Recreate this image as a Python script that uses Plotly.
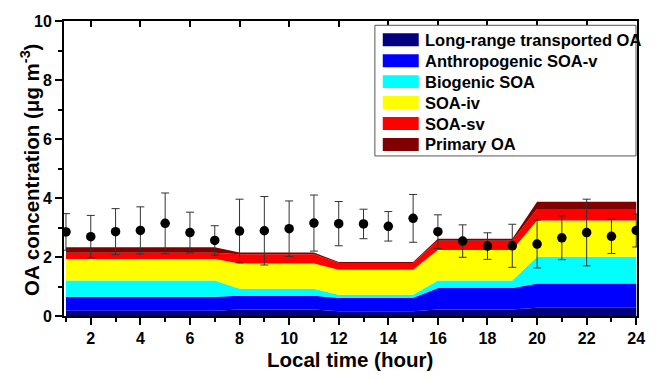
import plotly.graph_objects as go

hours = list(range(1, 25))

# stacked components (µg m-3), per hour
long_range = [0.18]*7 + [0.22]*4 + [0.16]*4 + [0.22]*4 + [0.28]*5
anthro_soa_v = [0.47]*7 + [0.47]*4 + [0.46]*4 + [0.73]*4 + [0.82]*5
biogenic_soa = [0.55]*7 + [0.23]*4 + [0.10]*4 + [0.25]*4 + [0.91]*5
soa_iv = [0.73]*7 + [0.86]*4 + [0.85]*4 + [1.04]*4 + [1.23]*5
soa_sv = [0.21]*7 + [0.31]*4 + [0.23]*4 + [0.31]*4 + [0.39]*5
primary_oa = [0.19]*7 + [0.06]*4 + [0.03]*4 + [0.07]*4 + [0.24]*5

# observed OA mean and std
obs_mean = [2.85, 2.69, 2.86, 2.90, 3.14, 2.83, 2.56, 2.88, 2.89, 2.96, 3.15, 3.13,
            3.12, 3.04, 3.31, 2.86, 2.54, 2.37, 2.38, 2.44, 2.65, 2.83, 2.70, 2.90]
obs_err = [0.62, 0.72, 0.78, 0.80, 1.03, 0.69, 0.50, 1.08, 1.16, 0.94, 0.95, 0.75,
           0.50, 0.50, 0.81, 0.57, 0.55, 0.45, 0.73, 0.81, 0.74, 1.13, 0.58, 0.56]

names = ["Long-range transported OA", "Anthropogenic SOA-v", "Biogenic SOA",
         "SOA-iv", "SOA-sv", "Primary OA"]
colors = ["#000080", "#0000FF", "#00FFFF", "#FFFF00", "#FF0000", "#800000"]
series = [long_range, anthro_soa_v, biogenic_soa, soa_iv, soa_sv, primary_oa]

x_ticks = [2, 4, 6, 8, 10, 12, 14, 16, 18, 20, 22, 24]
y_ticks = [0, 2, 4, 6, 8, 10]

x_title = "Local time (hour)"
y_title = "OA concentration (μg m<sup>-3</sup>)"

FONT = "Arial, Liberation Sans, sans-serif"

fig = go.Figure()
for name, col, vals in zip(names, colors, series):
    fig.add_trace(go.Scatter(x=hours, y=vals, name=name, stackgroup="one",
                             mode="none", fillcolor=col, line=dict(width=0),
                             showlegend=False, hoverinfo="skip"))

fig.add_trace(go.Scatter(x=hours, y=obs_mean, mode="markers",
                         marker=dict(color="black", size=9.5),
                         error_y=dict(type="data", array=obs_err, color="#333333",
                                      thickness=1, width=4),
                         showlegend=False))

# dummy trace for top axis ticks
fig.add_trace(go.Scatter(x=[1], y=[None], xaxis="x2", showlegend=False, hoverinfo="skip"))

axis_font = dict(family=FONT, size=16, color="black", weight="bold")
title_font = dict(family=FONT, size=20.5, color="black", weight="bold")

fig.update_layout(
    width=656, height=378,
    margin=dict(l=63.5, r=11, t=20.7, b=61.5),
    plot_bgcolor="white", paper_bgcolor="white",
    xaxis=dict(range=[0.92, 24.03], tickvals=x_ticks, ticks="outside", ticklen=7,
               tickwidth=1.5, tickcolor="black", showline=True, linecolor="black",
               linewidth=2, mirror=True, showgrid=False, zeroline=False,
               tickfont=axis_font,
               minor=dict(tickvals=hours, ticks="outside", ticklen=4, tickwidth=1.5,
                          tickcolor="black", showgrid=False)),
    xaxis2=dict(overlaying="x", matches="x", side="top", tickvals=x_ticks,
                ticks="inside", ticklen=6, tickwidth=1.5, tickcolor="black",
                showticklabels=False, showline=False, showgrid=False, zeroline=False),
    yaxis=dict(range=[0, 10], tickvals=y_ticks, ticks="outside", ticklen=7,
               tickwidth=1.5, tickcolor="black", showline=True, linecolor="black",
               linewidth=2, mirror=True, showgrid=False, zeroline=False,
               tickfont=axis_font,
               minor=dict(tickvals=[1, 3, 5, 7, 9], ticks="outside", ticklen=4,
                          tickwidth=1.5, tickcolor="black", showgrid=False)),
)

# pixel -> paper helpers (plot area 63.5..645 x 20.7..316.5)
px_w, px_h = 581.5, 295.8
def px2x(px):
    return (px - 63.5) / px_w
def px2y(py):
    return (316.5 - py) / px_h

# axis titles
fig.add_annotation(xref="paper", yref="paper", x=px2x(354), y=px2y(360),
                   xanchor="center", yanchor="middle", showarrow=False,
                   text=x_title, font=title_font)
fig.add_annotation(xref="paper", yref="paper", x=px2x(29), y=px2y(170),
                   xanchor="center", yanchor="middle", showarrow=False,
                   textangle=-90, text=y_title, font=title_font)

# custom legend
fig.add_shape(type="rect", xref="paper", yref="paper",
              x0=px2x(379), x1=px2x(644), y0=px2y(156), y1=px2y(25),
              line=dict(color="#555555", width=1), fillcolor="white", layer="above")
for i, (name, col) in enumerate(zip(names, colors)):
    cy = 39.5 + i * 21.0
    fig.add_shape(type="rect", xref="paper", yref="paper",
                  x0=px2x(387), x1=px2x(423.5), y0=px2y(cy + 6.5), y1=px2y(cy - 6.5),
                  line=dict(width=0), fillcolor=col, layer="above")
    fig.add_annotation(xref="paper", yref="paper", x=px2x(428), y=px2y(cy),
                       xanchor="left", yanchor="middle", showarrow=False,
                       text=name, font=dict(family=FONT, size=16.5, color="black", weight="bold"))

fig.write_html("out.html")
